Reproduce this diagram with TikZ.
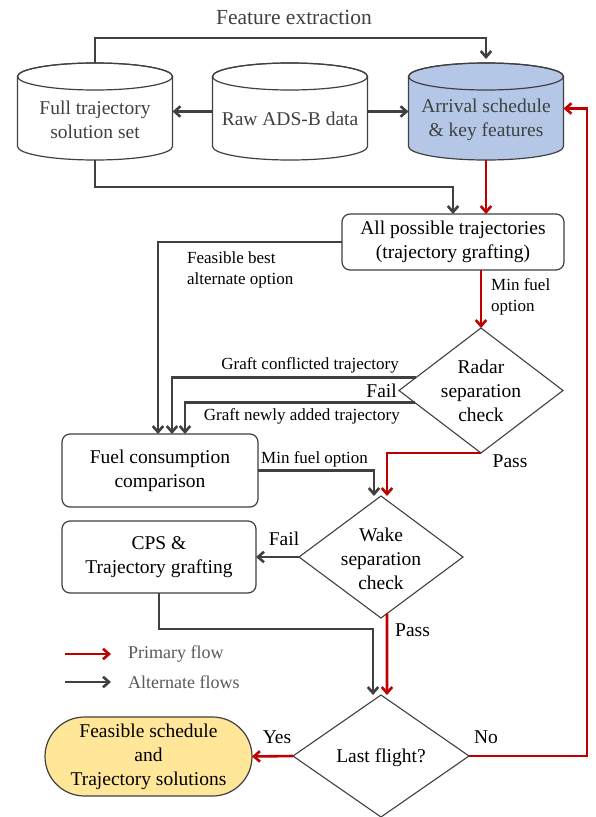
\documentclass[tikz,border=0pt]{standalone}
\usepackage{fontspec}
\setmainfont{Liberation Serif}
\usetikzlibrary{arrows.meta,shapes.geometric,calc}
\definecolor{lg}{HTML}{404040}
\definecolor{rd}{HTML}{C00000}
\definecolor{cb}{HTML}{B4C7E7}
\definecolor{fy}{HTML}{FFE699}
\definecolor{tg}{HTML}{595959}
\newcommand\drawcyl[2]{%
  \filldraw[draw=lg, line width=1.2pt, fill=#2] ({#1-77.5},76.5) -- ({#1-77.5},146.5)
    arc[start angle=180, end angle=0, x radius=77.5, y radius=13.5]
    -- ({#1+77.5},76.5) arc[start angle=0, end angle=-180, x radius=77.5, y radius=13.5] -- cycle;
  \draw[draw=lg, line width=1.2pt] (#1,76.5) ellipse[x radius=77.5, y radius=13.5];
}
\begin{document}
\begin{tikzpicture}[x=1pt,y=-1pt,
  gl/.style={draw=lg, line width=2.6pt, -{Straight Barb[length=6pt,width=10.5pt]}},
  rl/.style={draw=rd, line width=2.6pt, -{Straight Barb[length=6pt,width=10.5pt]}},
  mt/.style={font=\fontsize{19.5}{24}\selectfont, align=center, inner sep=0pt},
  sm/.style={font=\fontsize{17}{21}\selectfont, inner sep=0pt},
  bx/.style={draw=lg, line width=1.2pt, rounded corners=8pt, inner sep=0pt, outer sep=0pt,
     font=\fontsize{19.5}{24}\selectfont, align=center},
  dia/.style={shape=diamond, draw=lg, line width=1.1pt, inner sep=0pt, outer sep=0pt},
  cyl/.style={inner sep=0pt, outer sep=0pt, minimum width=155pt, minimum height=97pt}]
\useasboundingbox (0,0) rectangle (595,817);
\fill[white] (0,0) rectangle (595,817);

% cylinders
\drawcyl{95}{white}
\drawcyl{290}{white}
\drawcyl{486}{cb}
\node[cyl] (c1) at (95,111.5) {};
\node[cyl] (c2) at (290,111.5) {};
\node[cyl] (c3) at (486,111.5) {};
\node[mt, text=lg] (c1t) at (95,120) {Full trajectory\\solution set};
\node[mt, text=lg] (c2t) at (290,119) {Raw ADS-B data};
\node[mt, text=lg] (c3t) at (486,120) {Arrival schedule\\\& key features};

% boxes
\node[bx, minimum width=222pt, minimum height=56pt] (apt) at (453,242) {All possible trajectories\\(trajectory grafting)};
\node[bx, minimum width=196pt, minimum height=73pt] (fuel) at (160,470.5) {Fuel consumption\\comparison};
\node[bx, minimum width=194pt, minimum height=72pt] (cps) at (159,557) {CPS \&\\Trajectory grafting};
\node[bx, fill=fy, rounded corners=39.5pt, minimum width=207pt, minimum height=79pt] (feas) at (148.5,756.5) {Feasible schedule\\and\\Trajectory solutions};

% diamonds
\node[dia, minimum width=164pt, minimum height=125pt] (radar) at (481,390.5) {};
\node[mt] (radart) at (481,391) {Radar\\separation\\check};
\node[dia, minimum width=164pt, minimum height=122pt] (wake) at (381,557) {};
\node[mt] (waket) at (381,559) {Wake\\separation\\check};
\node[dia, minimum width=176pt, minimum height=122pt] (last) at (381,756) {};
\node[mt] (lastt) at (381,757.5) {Last flight?};

% connectors
\draw[gl] (c2.west) -- (c1.east);
\draw[gl] (c2.east) -- (c3.west);
\draw[gl] (c1.north) -- ++(0,-25) -| ($(c3.north)+(0,-4)$);
\draw[gl] (c1.south) -- ++(0,27) -| (apt.north);
\draw[rl] (c3.south) -- (c3.south |- apt.north);
\draw[gl] (apt.west) -| ($(fuel.north)+(-2,0)$);
\draw[gl] ($(radar.west)!0.206!(radar.north)$) -| ($(fuel.north)+(12,0)$);
\draw[gl] ($(radar.west)!0.19!(radar.south)$) -| ($(fuel.north)+(25,0)$);
\draw[rl] (radar.north |- apt.south) -- (radar.north);
\draw[rl] (radar.south) -| ($(wake.north)+(6,0)$);
\draw[gl] (fuel.east) -| ($(wake.north)+(-7,0)$);
\draw[gl] (wake.west) -- (cps.east);
\draw[rl] ($(wake.south)!0.073!(wake.east)$) -- ($(last.north)+(6,0)$);
\draw[gl] (cps.south) -- ++(0,36) -| ($(last.north)+(-8,0)$);
\draw[rl] (last.west) -- (feas.east);
\coordinate (rx) at (587,0);
\draw[rl] (last.east) -- (last.east -| rx) |- ($(c3.east)+(0,-3)$);

% labels
\node[inner sep=0pt, text=lg, font=\fontsize{21.5}{26}\selectfont] (fe) at (294,17) {Feature extraction};
\node[sm, align=left, anchor=west] (fbl) at (187,269.5) {Feasible best\\alternate option};
\node[sm, align=left, anchor=west] (mfl) at (491,297) {Min fuel\\option};
\node[sm, anchor=east] (gcl) at (399,365) {Graft conflicted trajectory};
\node[sm, anchor=east] (gnl) at (400,416) {Graft newly added trajectory};
\node[mt, anchor=east] (fail1) at (397,391) {Fail};
\node[sm, anchor=west] (mfo) at (261,459) {Min fuel option};
\node[mt] (pass1) at (510,461) {Pass};
\node[mt] (fail2) at (284,539) {Fail};
\node[mt, anchor=west] (pass2) at (395,630) {Pass};
\node[mt] (yes) at (277,737) {Yes};
\node[mt] (no) at (486,737) {No};

% legend
\coordinate (la1) at (65,654);
\coordinate (la2) at (111,654);
\coordinate (lb1) at (65,682);
\coordinate (lb2) at (111,682);
\draw[rl] (la1) -- (la2);
\draw[gl] (lb1) -- (lb2);
\node[inner sep=0pt, anchor=west, text=tg, font=\fontsize{18}{22}\selectfont] (lgt1) at (128,654) {Primary flow};
\node[inner sep=0pt, anchor=west, text=tg, font=\fontsize{18}{22}\selectfont] (lgt2) at (128,682) {Alternate flows};
\end{tikzpicture}
\end{document}
